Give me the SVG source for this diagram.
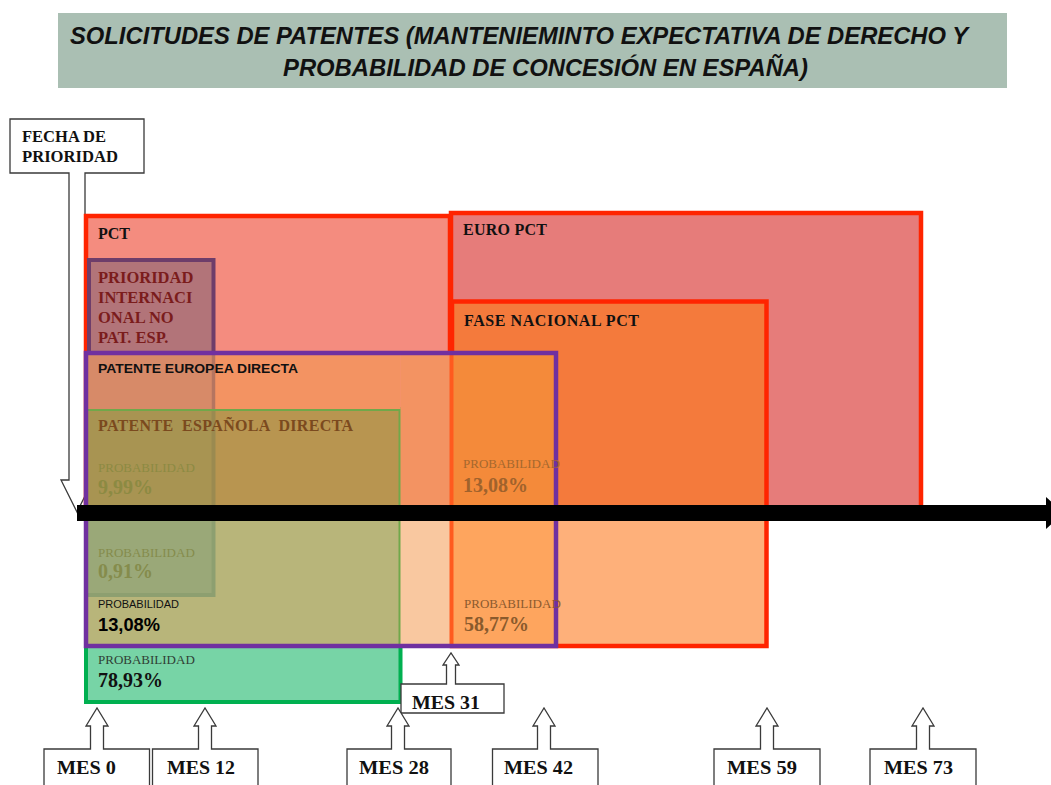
<svg xmlns="http://www.w3.org/2000/svg" width="1051" height="785" viewBox="0 0 1051 785">
  <style>
    .ttl { font-family: "Liberation Sans", Arial, sans-serif; font-weight: bold; font-style: italic; font-size: 24.5px; fill: #111; }
    .lbl { font-family: "Liberation Serif", "Times New Roman", serif; font-weight: bold; font-size: 16px; fill: #111; }
    .prio { font-family: "Liberation Serif", "Times New Roman", serif; font-weight: bold; font-size: 16.5px; fill: #7b1c1c; }
    .esp { font-family: "Liberation Serif", "Times New Roman", serif; font-weight: bold; font-size: 16px; fill: #7b4a1e; }
    .eur { font-family: "Liberation Sans", Arial, sans-serif; font-weight: bold; font-size: 13.5px; fill: #111; }
    .ps { font-family: "Liberation Serif", "Times New Roman", serif; font-size: 13px; }
    .pv { font-family: "Liberation Serif", "Times New Roman", serif; font-weight: bold; font-size: 20px; }
    .mes { font-family: "Liberation Serif", "Times New Roman", serif; font-weight: bold; font-size: 19px; fill: #111; }
    .call { fill: #fff; stroke: #3a3a3a; stroke-width: 1.3; }
    .red { fill: none; stroke: #ff2400; stroke-width: 4.5; }
  </style>

  <!-- heading banner -->
  <g id="titulo">
    <rect x="58" y="13" width="949" height="75" fill="#aabfb3"/>
    <text class="ttl" x="70" y="44" textLength="898" lengthAdjust="spacingAndGlyphs">SOLICITUDES DE PATENTES (MANTENIEMINTO EXPECTATIVA DE DERECHO Y</text>
    <text class="ttl" x="283" y="76" textLength="525" lengthAdjust="spacingAndGlyphs">PROBABILIDAD DE CONCESIÓN EN ESPAÑA)</text>
  </g>

  <!-- priority date callout pointing down to the time axis -->
  <g id="fecha-prioridad">
    <path class="call" d="M10,119 H144 V173 H85 V480 H93 L77,512 L61,480 H69 V173 H10 Z"/>
    <text class="lbl" x="22" y="142" font-size="17" textLength="84" lengthAdjust="spacingAndGlyphs">FECHA DE</text>
    <text class="lbl" x="22" y="162" font-size="17" textLength="96" lengthAdjust="spacingAndGlyphs">PRIORIDAD</text>
  </g>

  <!-- EURO PCT (bottom edge runs under the axis) -->
  <g id="euro-pct">
    <rect x="451" y="213" width="470" height="300" fill="#e67c7a"/>
    <rect class="red" x="451" y="213" width="470" height="300"/>
    <text class="lbl" x="463" y="235" textLength="84">EURO PCT</text>
  </g>

  <!-- PCT -->
  <g id="pct">
    <rect x="86" y="216" width="364" height="297" fill="#f48c7f"/>
    <rect class="red" x="86" y="216" width="364" height="297"/>
    <text class="lbl" x="98" y="239">PCT</text>
  </g>

  <!-- national phase PCT -->
  <g id="fase-nacional-pct">
    <rect x="452" y="301.5" width="314.5" height="203.5" fill="#f47a3c"/>
    <rect x="452" y="505" width="314.5" height="141" fill="#feb07a"/>
    <rect class="red" x="452" y="301.5" width="314.5" height="344.5"/>
    <text class="lbl" x="464" y="326" textLength="175">FASE NACIONAL PCT</text>
  </g>

  <!-- international priority, non-Spanish patent -->
  <g id="prioridad-internacional">
    <rect x="89" y="260" width="124.5" height="335" fill="#b27479" stroke="#6e3d6a" stroke-width="4"/>
    <text class="prio" x="98" y="283">PRIORIDAD</text>
    <text class="prio" x="98" y="303">INTERNACI</text>
    <text class="prio" x="98" y="323">ONAL NO</text>
    <text class="prio" x="98" y="343">PAT. ESP.</text>
  </g>

  <!-- direct Spanish patent -->
  <g id="patente-espanola">
    <rect x="86" y="409" width="314.5" height="96" fill="#b89550"/>
    <rect x="86" y="409" width="127.5" height="96" fill="#a89452"/>
    <rect x="86" y="505" width="314.5" height="141" fill="#b8b57a"/>
    <rect x="86" y="505" width="127.5" height="90" fill="#9aa878"/>
    <rect x="86" y="646" width="314.5" height="56" fill="#77d4a6"/>
    <path d="M213.5,409 V505" stroke="#9a8a50" stroke-width="4" fill="none"/>
    <path d="M213.5,505 V595 H86" stroke="#8d9f70" stroke-width="4" fill="none"/>
    <path d="M86,409 H400.5 V646" stroke="#70a84a" stroke-width="4" fill="none"/>
    <path d="M400.5,646 V702 H86 V646" stroke="#00b050" stroke-width="4" fill="none"/>
    <text class="esp" x="98" y="431" xml:space="preserve" textLength="255">PATENTE  ESPAÑOLA  DIRECTA</text>
  </g>

  <!-- direct European patent -->
  <g id="patente-europea">
    <rect x="86" y="353" width="314.5" height="56" fill="#f39362"/>
    <rect x="86" y="353" width="127.5" height="56" fill="#d78a68"/>
    <path d="M213.5,353 V409" stroke="#b57560" stroke-width="3.5" fill="none"/>
    <rect x="400.5" y="353" width="51.5" height="152" fill="#f39362"/>
    <rect x="452" y="353" width="104" height="152" fill="#f48a3a"/>
    <rect x="400.5" y="505" width="51.5" height="141" fill="#f9c8a0"/>
    <rect x="452" y="505" width="104" height="141" fill="#fea55e"/>
    <path d="M451.5,353 V646" stroke="#ff5a1e" stroke-width="4" fill="none"/>
    <rect x="86" y="353" width="470" height="293" fill="none" stroke="#7030a0" stroke-width="4.5"/>
    <text class="eur" x="98" y="373" textLength="200" lengthAdjust="spacingAndGlyphs">PATENTE EUROPEA DIRECTA</text>
  </g>

  <!-- grant probabilities -->
  <g id="probabilidades">
    <text class="ps" x="98" y="472" fill="#8c8a42">PROBABILIDAD</text>
    <text class="pv" x="98" y="494" fill="#8c8a42">9,99%</text>
    <text class="ps" x="98" y="557" fill="#858c4c">PROBABILIDAD</text>
    <text class="pv" x="98" y="578" fill="#858c4c">0,91%</text>
    <text x="98" y="608" font-family="Liberation Sans, Arial, sans-serif" font-size="11" fill="#111" textLength="81">PROBABILIDAD</text>
    <text x="98" y="631" font-family="Liberation Sans, Arial, sans-serif" font-weight="bold" font-size="18" fill="#000" textLength="62" lengthAdjust="spacingAndGlyphs">13,08%</text>
    <text class="ps" x="98" y="664" fill="#2f3f35">PROBABILIDAD</text>
    <text class="pv" x="98" y="687" fill="#111">78,93%</text>
    <text class="ps" x="463" y="468" fill="#a5682e">PROBABILIDAD</text>
    <text class="pv" x="463" y="492" fill="#a0622c">13,08%</text>
    <text class="ps" x="464" y="608" fill="#8c5a2e">PROBABILIDAD</text>
    <text class="pv" x="464" y="631" fill="#8a5a2c">58,77%</text>
  </g>

  <!-- time axis -->
  <g id="conectores">
    <rect x="77" y="505" width="972" height="16" fill="#000"/>
    <polygon points="1046,497 1064,513 1046,529" fill="#000"/>
  </g>

  <!-- month markers -->
  <g id="mes-31">
    <path class="call" d="M401,684 H446.5 V665 H443 L451,653 L459,665 H455.5 V684 H504 V713 H401 Z"/>
    <text class="mes" x="412" y="709" textLength="68" lengthAdjust="spacingAndGlyphs">MES 31</text>
  </g>
  <g id="mes-0">
    <path class="call" d="M44,790 V749 H90.5 V726 H86 L97,708 L108,726 H103.5 V749 H149.5 V790"/>
    <text class="mes" x="57" y="774" textLength="59" lengthAdjust="spacingAndGlyphs">MES 0</text>
  </g>
  <g id="mes-12">
    <path class="call" d="M152.5,790 V749 H198.5 V726 H194 L205,708 L216,726 H211.5 V749 H258 V790"/>
    <text class="mes" x="167" y="774" textLength="68" lengthAdjust="spacingAndGlyphs">MES 12</text>
  </g>
  <g id="mes-28">
    <path class="call" d="M347,790 V749 H391.5 V726 H387 L398,708 L409,726 H404.5 V749 H451 V790"/>
    <text class="mes" x="359" y="774" textLength="70" lengthAdjust="spacingAndGlyphs">MES 28</text>
  </g>
  <g id="mes-42">
    <path class="call" d="M492.5,790 V749 H537.5 V726 H533 L544,708 L555,726 H550.5 V749 H598 V790"/>
    <text class="mes" x="504" y="774" textLength="69" lengthAdjust="spacingAndGlyphs">MES 42</text>
  </g>
  <g id="mes-59">
    <path class="call" d="M714,790 V749 H760.5 V726 H756 L767,708 L778,726 H773.5 V749 H820 V790"/>
    <text class="mes" x="727" y="774" textLength="70" lengthAdjust="spacingAndGlyphs">MES 59</text>
  </g>
  <g id="mes-73">
    <path class="call" d="M870,790 V749 H916.5 V726 H912 L923,708 L934,726 H929.5 V749 H976 V790"/>
    <text class="mes" x="884" y="774" textLength="69" lengthAdjust="spacingAndGlyphs">MES 73</text>
  </g>
</svg>
